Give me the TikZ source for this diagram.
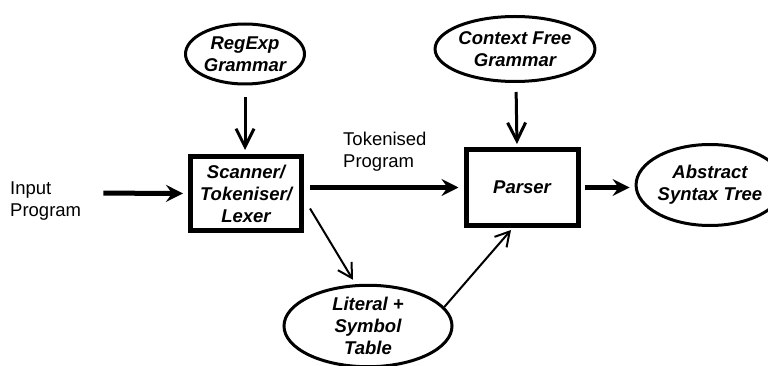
\documentclass[tikz,border=0pt]{standalone}
\usepackage{fontspec}
\setmainfont{Liberation Sans}
\usetikzlibrary{shapes.geometric,arrows.meta,calc}
\begin{document}
\begin{tikzpicture}[x=1pt,y=-1pt,
  every node/.style={font=\fontsize{18.5}{22}\selectfont, inner sep=0pt, align=center},
  lbl/.style={font=\fontsize{18.5}{22}\selectfont\bfseries\itshape},
  oval/.style={ellipse, draw, line width=3pt, lbl},
  procbox/.style={rectangle, draw, line width=5pt, lbl},
  plain/.style={align=left},
  heavy/.style={line width=5pt, -{Stealth[length=17pt,width=17pt,inset=6pt]}},
  medium/.style={line width=3pt, -{Straight Barb[length=18pt,width=18pt]}},
  light/.style={line width=2pt, -{Straight Barb[length=14pt,width=16pt]}}
]
\useasboundingbox (0,0) rectangle (768,366);

\node[oval, minimum width=119pt, minimum height=60pt] (re) at (245,54) {RegExp\\Grammar};
\node[oval, minimum width=150pt, minimum height=65pt] (cf) at (515,49) {Context Free\\Grammar};
\node[procbox, minimum width=111pt, minimum height=74pt] (sc) at (246,193.5) {Scanner/\\Tokeniser/\\Lexer};
\node[procbox, minimum width=112pt, minimum height=76pt] (pa) at (522,187.5) {Parser};
\node[oval, minimum width=115pt, minimum height=81pt] (ast) at (710,185) {Abstract\\Syntax Tree};
\node[oval, minimum width=168pt, minimum height=77pt] (li) at (368,326) {Literal +\\Symbol\\Table};

\node[plain, anchor=west] (in) at (10,201.5) {Input\\Program};
\node[plain, anchor=west] (tp) at (343,151.5) {Tokenised\\Program};

\draw[heavy, shorten <=22pt, shorten >=5pt] (in.east |- sc.west) ++(0,-0.5) -- (sc.west);
\draw[medium, shorten <=12pt, shorten >=4pt] (re.south) -- (re.south |- sc.north);
\draw[heavy, shorten <=6pt, shorten >=5pt] (sc.east |- pa.west) -- (pa.west);
\draw[medium, shorten <=9pt, shorten >=3pt] (cf.south) ++(1,0) -- ($(pa.north)+(-5,0)$);
\draw[heavy, shorten <=4pt, shorten >=5pt] (pa.east) -- (pa.east -| ast.west);
\draw[light] ($(sc.east)+(6,15)$) -- ($(li.north)+(-15,-4)$);
\draw[light] (li.14) -- ($(pa.south)+(-11,2)$);
\end{tikzpicture}
\end{document}
